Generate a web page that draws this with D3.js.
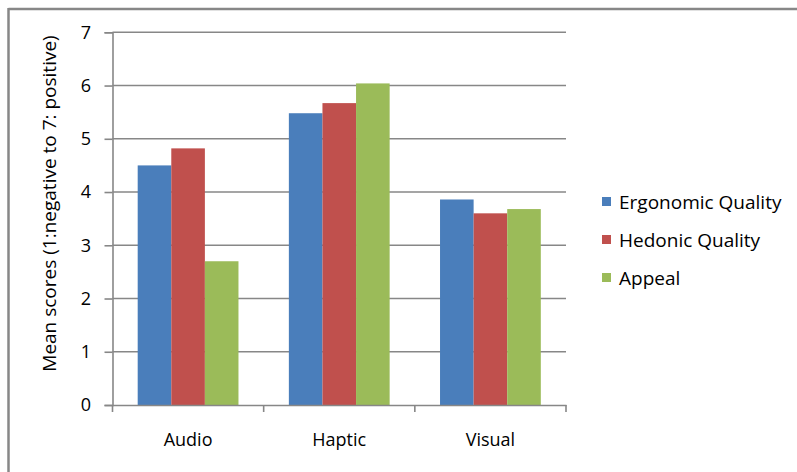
<!DOCTYPE html>
<html>
<head>
<meta charset="utf-8">
<script src="https://cdn.jsdelivr.net/npm/d3@7/dist/d3.min.js"></script>
<style>
  html, body { margin: 0; padding: 0; background: #fff; }
  svg { display: block; }
  text { font-family: "Open Sans", sans-serif; fill: #000; }
</style>
</head>
<body>
<svg id="chart" width="797" height="472"></svg>
<script>
// Mean questionnaire scores per feedback modality
const categories = ["Audio", "Haptic", "Visual"];
const seriesNames = ["Ergonomic Quality", "Hedonic Quality", "Appeal"];
const ergonomicQuality = [4.50, 5.48, 3.86];
const hedonicQuality = [4.82, 5.67, 3.60];
const appeal = [2.70, 6.04, 3.68];
const yTicks = [0, 1, 2, 3, 4, 5, 6, 7];
const seriesColors = ["#4a7ebb", "#c0504d", "#9bbb59"];
const yTitle = "Mean scores (1:negative to 7: positive)";

const seriesValues = [ergonomicQuality, hedonicQuality, appeal];

const svg = d3.select("#chart");
const W = 797, H = 472;
const plot = { left: 112.5, right: 566, top: 32.3, bottom: 405 };

// Outer frame (top and left edges visible)
svg.append("line").attr("x1", 8.5).attr("x2", W).attr("y1", 9).attr("y2", 9)
  .attr("stroke", "#878787").attr("stroke-width", 2.5);
svg.append("line").attr("x1", 8.5).attr("x2", 8.5).attr("y1", 8).attr("y2", H)
  .attr("stroke", "#878787").attr("stroke-width", 2.5);

const y = d3.scaleLinear().domain([0, 7]).range([plot.bottom, plot.top]);
const x0 = d3.scaleBand().domain(categories).range([plot.left, plot.right])
  .paddingInner(0).paddingOuter(0);
// 150% gap width: three bars share 3/(3+1.5) of each band
const x1 = d3.scaleBand().domain(seriesNames)
  .range([x0.bandwidth() * 0.25 / 1.5, x0.bandwidth() - x0.bandwidth() * 0.25 / 1.5]);

// Gridlines
svg.append("g").selectAll("line").data(yTicks.filter(t => t > 0)).join("line")
  .attr("x1", plot.left).attr("x2", plot.right)
  .attr("y1", d => y(d)).attr("y2", d => y(d))
  .attr("stroke", "#878787").attr("stroke-width", 1.6);

// Bars
const groups = svg.append("g").selectAll("g").data(categories).join("g")
  .attr("transform", d => `translate(${x0(d)},0)`);
groups.selectAll("rect")
  .data((c, i) => seriesNames.map((s, j) => ({ s, j, v: seriesValues[j][i] })))
  .join("rect")
  .attr("x", d => x1(d.s))
  .attr("width", x1.bandwidth())
  .attr("y", d => y(d.v))
  .attr("height", d => y(0) - y(d.v))
  .attr("fill", d => seriesColors[d.j]);

// Y axis
const yAxis = svg.append("g").attr("transform", `translate(${plot.left},0)`)
  .call(d3.axisLeft(y).tickValues(yTicks).tickFormat(d3.format("d")).tickSize(8).tickPadding(13.5));
yAxis.select(".domain").attr("stroke", "#878787").attr("stroke-width", 1.6);
yAxis.selectAll(".tick line").attr("stroke", "#878787").attr("stroke-width", 1.6);
yAxis.selectAll(".tick text").attr("font-family", "Open Sans, sans-serif")
  .attr("font-size", 18).attr("fill", "#000");

// X axis
const xAxis = svg.append("g").attr("transform", `translate(0,${plot.bottom})`)
  .call(d3.axisBottom(x0).tickSize(0).tickPadding(28));
xAxis.select(".domain").attr("stroke", "#878787").attr("stroke-width", 1.6);
xAxis.selectAll(".tick text").attr("font-family", "Open Sans, sans-serif")
  .attr("font-size", 18).attr("fill", "#000");
// Category boundary tick marks
const bounds = categories.map(c => x0(c)).concat([plot.right]);
xAxis.append("g").selectAll("line").data(bounds).join("line")
  .attr("x1", d => d).attr("x2", d => d).attr("y1", 0).attr("y2", 7)
  .attr("stroke", "#878787").attr("stroke-width", 1.6);

// Y axis title
svg.append("text")
  .attr("transform", `translate(56,203.5) rotate(-90)`)
  .attr("text-anchor", "middle")
  .attr("font-size", 19)
  .text(yTitle);

// Legend
const legend = svg.append("g").attr("transform", "translate(602,197)");
const item = legend.selectAll("g").data(seriesNames).join("g")
  .attr("transform", (d, i) => `translate(0,${i * 38})`);
item.append("rect").attr("width", 9).attr("height", 9)
  .attr("fill", (d, i) => seriesColors[i]);
item.append("text").attr("x", 17).attr("y", 11.5)
  .attr("font-size", 19).text(d => d);
</script>
</body>
</html>
